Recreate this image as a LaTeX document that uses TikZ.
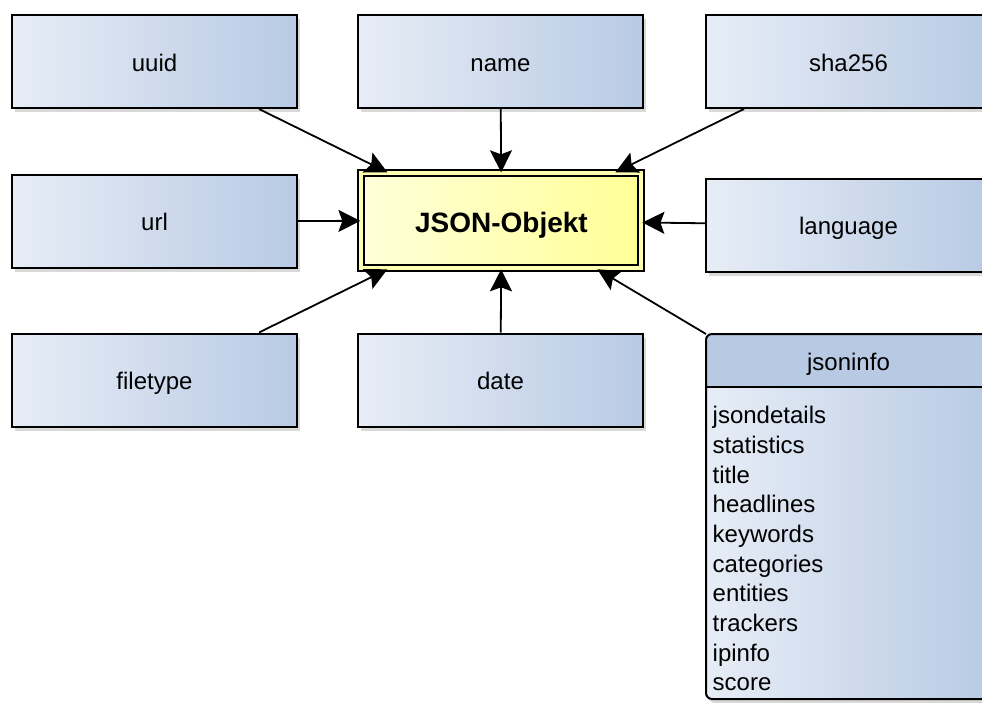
\documentclass[tikz,border=0pt]{standalone}
\usepackage{fontspec}
\setmainfont{Liberation Sans}
\usetikzlibrary{arrows.meta, shadows}
\definecolor{boxleft}{RGB}{231,237,246}
\definecolor{boxright}{RGB}{184,202,228}
\definecolor{headblue}{RGB}{184,201,227}
\definecolor{objleft}{RGB}{255,255,218}
\definecolor{objright}{RGB}{255,255,150}
\tikzset{
  field/.style={draw=black, line width=2pt, minimum width=285pt, minimum height=93pt,
    left color=boxleft, right color=boxright, inner sep=0pt,
    text height=20pt, text depth=1pt,
    drop shadow={shadow xshift=3pt, shadow yshift=-4pt, opacity=0.3},
    font=\fontsize{24}{29}\selectfont},
  object/.style={draw=black, line width=2pt, double=objright!60!objleft, double distance=4pt,
    minimum width=280pt, minimum height=95pt, left color=objleft, right color=objright,
    text height=24pt, text depth=1pt, inner sep=0pt,
    drop shadow={shadow xshift=3pt, shadow yshift=-4pt, opacity=0.3},
    font=\fontsize{28}{32}\selectfont\bfseries},
  link/.style={-{Stealth[length=22pt,width=22pt,inset=4pt]}, line width=1.8pt}
}
\begin{document}
\begin{tikzpicture}[x=1pt, y=-1pt]
\useasboundingbox (0,0) rectangle (982,702);
\node[field] (uuid)  at (154.5,61.5) {uuid};
\node[field] (name)  at (500.5,61.5) {name};
\node[field] (sha)   at (848.5,61.5) {sha256};
\node[field] (url)   at (154.5,221)  {url};
\node[field] (lang)  at (848.5,225)  {language};
\node[field] (ftype) at (154.5,380)  {filetype};
\node[field] (date)  at (500.5,380)  {date};
\node[object] (json) at (501.4,220.8) {JSON-Objekt};
% jsoninfo table
\node[field, draw=none, outer sep=0pt, rounded corners=6pt, minimum height=365pt] (info) at (848.5,516.5) {};
\begin{scope}
\clip[rounded corners=6pt] (info.north west) rectangle (info.south east);
\fill[headblue] (info.north west) rectangle ([yshift=-53pt]info.north east);
\end{scope}
\draw[line width=2pt, rounded corners=6pt] (info.north west) rectangle (info.south east);
\draw[line width=2pt] ([yshift=-53pt]info.north west) -- ([yshift=-53pt]info.north east);
\node[font=\fontsize{24}{29}\selectfont, text height=20pt, text depth=1pt] (infohead) at ([yshift=-27pt]info.north) {jsoninfo};
\node[font=\fontsize{24}{29.7}\selectfont, align=left, anchor=north west, inner sep=0pt] (infolist) at (712.5,406)
  {jsondetails\\statistics\\title\\headlines\\keywords\\categories\\entities\\trackers\\ipinfo\\score};
% arrows
\draw[link] ([xshift=-39pt]uuid.south east) -- ([xshift=27pt]json.north west);
\draw[link] (name) -- (json);
\draw[link] ([xshift=39pt]sha.south west) -- ([xshift=-27pt]json.north east);
\draw[link] (url) -- (json);
\draw[link] (lang) -- (json);
\draw[link] ([xshift=-39pt]ftype.north east) -- ([xshift=27pt]json.south west);
\draw[link] (date) -- (json);
\draw[link] (info.north west) -- ([xshift=-45pt]json.south east);
\end{tikzpicture}
\end{document}
